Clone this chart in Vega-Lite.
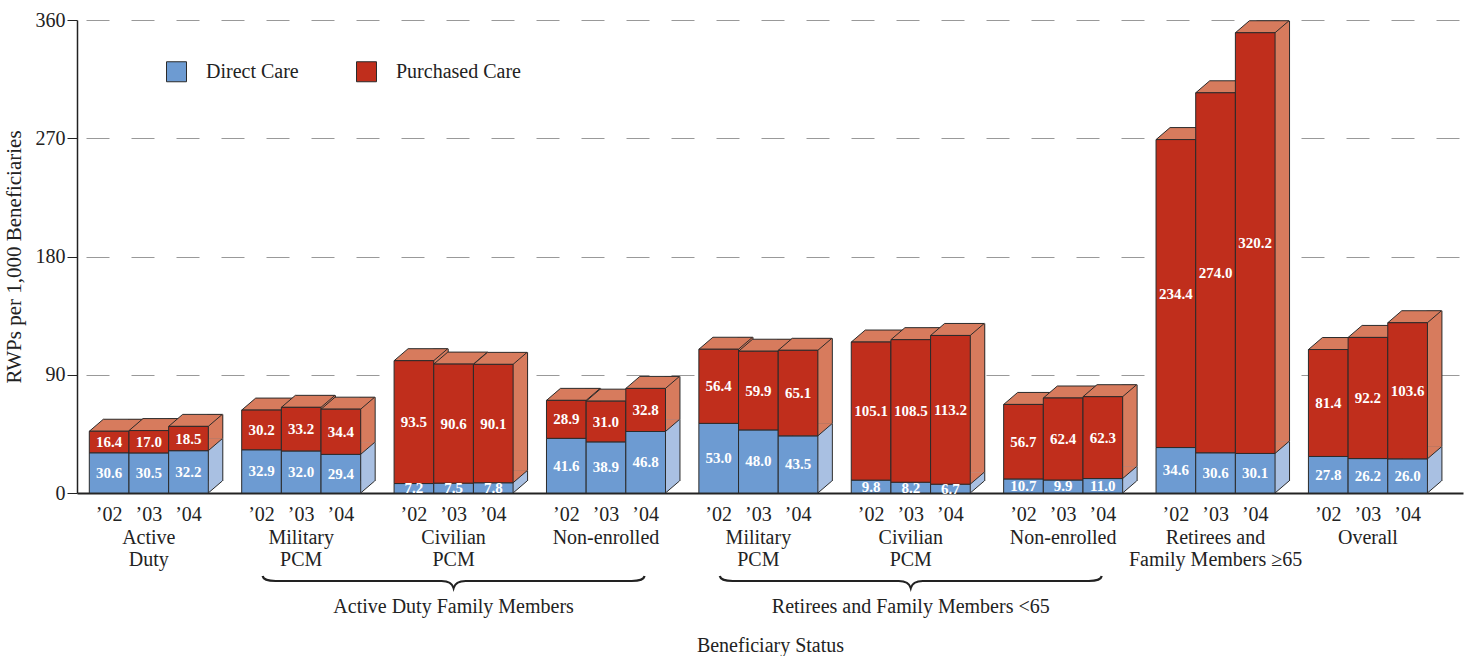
{
  "$schema": "https://vega.github.io/schema/vega-lite/v6.json",
  "width": 1386,
  "height": 473,
  "autosize": {"type": "none"},
  "padding": {"left": 77, "top": 20, "right": 5, "bottom": 163},
  "background": "white",
  "config": {
    "font": "Liberation Serif",
    "view": {"stroke": null},
    "legend": {"padding": 0}
  },
  "datasets": {
    "rwp": [
      {"grp": "AD", "year": "’02", "series": "Direct Care", "value": 30.6},
      {"grp": "AD", "year": "’02", "series": "Purchased Care", "value": 16.4},
      {"grp": "AD", "year": "’03", "series": "Direct Care", "value": 30.5},
      {"grp": "AD", "year": "’03", "series": "Purchased Care", "value": 17.0},
      {"grp": "AD", "year": "’04", "series": "Direct Care", "value": 32.2},
      {"grp": "AD", "year": "’04", "series": "Purchased Care", "value": 18.5},
      {"grp": "ADFM-M", "year": "’02", "series": "Direct Care", "value": 32.9},
      {"grp": "ADFM-M", "year": "’02", "series": "Purchased Care", "value": 30.2},
      {"grp": "ADFM-M", "year": "’03", "series": "Direct Care", "value": 32.0},
      {"grp": "ADFM-M", "year": "’03", "series": "Purchased Care", "value": 33.2},
      {"grp": "ADFM-M", "year": "’04", "series": "Direct Care", "value": 29.4},
      {"grp": "ADFM-M", "year": "’04", "series": "Purchased Care", "value": 34.4},
      {"grp": "ADFM-C", "year": "’02", "series": "Direct Care", "value": 7.2},
      {"grp": "ADFM-C", "year": "’02", "series": "Purchased Care", "value": 93.5},
      {"grp": "ADFM-C", "year": "’03", "series": "Direct Care", "value": 7.5},
      {"grp": "ADFM-C", "year": "’03", "series": "Purchased Care", "value": 90.6},
      {"grp": "ADFM-C", "year": "’04", "series": "Direct Care", "value": 7.8},
      {"grp": "ADFM-C", "year": "’04", "series": "Purchased Care", "value": 90.1},
      {"grp": "ADFM-N", "year": "’02", "series": "Direct Care", "value": 41.6},
      {"grp": "ADFM-N", "year": "’02", "series": "Purchased Care", "value": 28.9},
      {"grp": "ADFM-N", "year": "’03", "series": "Direct Care", "value": 38.9},
      {"grp": "ADFM-N", "year": "’03", "series": "Purchased Care", "value": 31.0},
      {"grp": "ADFM-N", "year": "’04", "series": "Direct Care", "value": 46.8},
      {"grp": "ADFM-N", "year": "’04", "series": "Purchased Care", "value": 32.8},
      {"grp": "RFM-M", "year": "’02", "series": "Direct Care", "value": 53.0},
      {"grp": "RFM-M", "year": "’02", "series": "Purchased Care", "value": 56.4},
      {"grp": "RFM-M", "year": "’03", "series": "Direct Care", "value": 48.0},
      {"grp": "RFM-M", "year": "’03", "series": "Purchased Care", "value": 59.9},
      {"grp": "RFM-M", "year": "’04", "series": "Direct Care", "value": 43.5},
      {"grp": "RFM-M", "year": "’04", "series": "Purchased Care", "value": 65.1},
      {"grp": "RFM-C", "year": "’02", "series": "Direct Care", "value": 9.8},
      {"grp": "RFM-C", "year": "’02", "series": "Purchased Care", "value": 105.1},
      {"grp": "RFM-C", "year": "’03", "series": "Direct Care", "value": 8.2},
      {"grp": "RFM-C", "year": "’03", "series": "Purchased Care", "value": 108.5},
      {"grp": "RFM-C", "year": "’04", "series": "Direct Care", "value": 6.7},
      {"grp": "RFM-C", "year": "’04", "series": "Purchased Care", "value": 113.2},
      {"grp": "RFM-N", "year": "’02", "series": "Direct Care", "value": 10.7},
      {"grp": "RFM-N", "year": "’02", "series": "Purchased Care", "value": 56.7},
      {"grp": "RFM-N", "year": "’03", "series": "Direct Care", "value": 9.9},
      {"grp": "RFM-N", "year": "’03", "series": "Purchased Care", "value": 62.4},
      {"grp": "RFM-N", "year": "’04", "series": "Direct Care", "value": 11.0},
      {"grp": "RFM-N", "year": "’04", "series": "Purchased Care", "value": 62.3},
      {"grp": "R65", "year": "’02", "series": "Direct Care", "value": 34.6},
      {"grp": "R65", "year": "’02", "series": "Purchased Care", "value": 234.4},
      {"grp": "R65", "year": "’03", "series": "Direct Care", "value": 30.6},
      {"grp": "R65", "year": "’03", "series": "Purchased Care", "value": 274.0},
      {"grp": "R65", "year": "’04", "series": "Direct Care", "value": 30.1},
      {"grp": "R65", "year": "’04", "series": "Purchased Care", "value": 320.2},
      {"grp": "ALL", "year": "’02", "series": "Direct Care", "value": 27.8},
      {"grp": "ALL", "year": "’02", "series": "Purchased Care", "value": 81.4},
      {"grp": "ALL", "year": "’03", "series": "Direct Care", "value": 26.2},
      {"grp": "ALL", "year": "’03", "series": "Purchased Care", "value": 92.2},
      {"grp": "ALL", "year": "’04", "series": "Direct Care", "value": 26.0},
      {"grp": "ALL", "year": "’04", "series": "Purchased Care", "value": 103.6}
    ],
    "braces": [
      {"grp": "ADFM-C", "label": "Active Duty Family Members"},
      {"grp": "RFM-C", "label": "Retirees and Family Members <65"}
    ]
  },
  "data": {"name": "rwp"},
  "transform": [
    {"stack": "value", "groupby": ["grp", "year"], "sort": [{"field": "series", "order": "ascending"}], "as": ["v0", "v1"]},
    {"calculate": "(datum.v0 + datum.v1) / 2", "as": "vmid"},
    {"lookup": "grp", "from": {"data": {"name": "braces"}, "key": "grp", "fields": ["label"]}}
  ],
  "resolve": {"scale": {"xOffset": "independent"}},
  "encoding": {
    "x": {
      "field": "grp",
      "type": "nominal",
      "scale": {
        "domain": ["AD", "ADFM-M", "ADFM-C", "ADFM-N", "RFM-M", "RFM-C", "RFM-N", "R65", "ALL"],
        "paddingInner": 0.219,
        "paddingOuter": 0.157,
        "align": 0.257
      },
      "axis": {
        "title": "Beneficiary Status",
        "titleFont": "Liberation Serif",
        "titleFontSize": 20,
        "titleFontWeight": "normal",
        "titleColor": "#222",
        "titlePadding": 66,
        "labelExpr": "({'AD':['Active','Duty'],'ADFM-M':['Military','PCM'],'ADFM-C':['Civilian','PCM'],'ADFM-N':'Non-enrolled','RFM-M':['Military','PCM'],'RFM-C':['Civilian','PCM'],'RFM-N':'Non-enrolled','R65':['Retirees and','Family Members ≥65'],'ALL':'Overall'})[datum.value]",
        "labelFont": "Liberation Serif",
        "labelFontSize": 20,
        "labelColor": "#222",
        "labelPadding": 34,
        "labelLineHeight": 22,
        "labelAngle": 0,
        "ticks": false,
        "domain": true,
        "domainColor": "#222",
        "domainWidth": 2
      }
    },
    "xOffset": {"field": "year", "type": "nominal", "scale": {"type": "band", "paddingInner": 0, "paddingOuter": 0}},
    "y": {
      "field": "v1",
      "type": "quantitative",
      "scale": {"domain": [0, 360], "nice": false},
      "axis": {
        "title": "RWPs per 1,000 Beneficiaries",
        "titleFont": "Liberation Serif",
        "titleFontSize": 21,
        "titleFontWeight": "normal",
        "titleColor": "#222",
        "titlePadding": 11,
        "values": [0, 90, 180, 270, 360],
        "labelFont": "Liberation Serif",
        "labelFontSize": 20,
        "labelColor": "#222",
        "labelPadding": 2,
        "tickSize": 10,
        "tickColor": "#222",
        "domainColor": "#222",
        "domainWidth": 1.5,
        "grid": true,
        "gridColor": "#999",
        "gridDash": [23, 22],
        "gridDashOffset": 36,
        "gridWidth": 1.2
      }
    }
  },
  "layer": [
    {
      "mark": {"type": "rule", "strokeWidth": 16, "strokeCap": "butt", "color": "#2b2b2b", "yOffset": -12, "y2Offset": -12},
      "encoding": {
        "xOffset": {"field": "year", "type": "nominal", "scale": {"type": "band", "range": [26.83, 145.83], "paddingInner": 0, "paddingOuter": 0}},
        "y": {"field": "v1", "type": "quantitative"},
        "y2": {"field": "v0"}
      }
    },
    {
      "mark": {"type": "rule", "strokeWidth": 14, "strokeCap": "butt", "yOffset": -12, "y2Offset": -12},
      "encoding": {
        "xOffset": {"field": "year", "type": "nominal", "scale": {"type": "band", "range": [26.83, 145.83], "paddingInner": 0, "paddingOuter": 0}},
        "y": {"field": "v1", "type": "quantitative"},
        "y2": {"field": "v0"},
        "color": {"condition": {"test": "datum.series === 'Direct Care'", "value": "#a9c0e2"}, "value": "#d77b5d"}
      }
    },
    {
      "mark": {"type": "point", "shape": "M19.8,-12L19.8,0L33.8,-12Z", "size": 4, "filled": true, "opacity": 1, "strokeWidth": 0},
      "encoding": {
        "y": {"field": "v0", "type": "quantitative"},
        "color": {"condition": {"test": "datum.series === 'Direct Care'", "value": "#a9c0e2"}, "value": "#d77b5d"}
      }
    },
    {
      "mark": {"type": "point", "shape": "M19.8,0L33.8,-12", "size": 4, "filled": false, "opacity": 1, "stroke": "#2b2b2b", "strokeWidth": 1},
      "encoding": {
        "y": {"field": "v0", "type": "quantitative"}
      }
    },
    {
      "transform": [{"filter": "datum.series === 'Purchased Care'"}],
      "mark": {"type": "point", "shape": "M-19.8,0L19.8,0L33.8,-12L-5.8,-12Z", "size": 4, "filled": true, "opacity": 1, "fill": "#d77b5d", "stroke": "#2b2b2b", "strokeWidth": 1},
      "encoding": {
        "y": {"field": "v1", "type": "quantitative"}
      }
    },
    {
      "mark": {"type": "bar", "stroke": "#2b2b2b", "strokeWidth": 1},
      "encoding": {
        "y": {"field": "v1", "type": "quantitative"},
        "y2": {"field": "v0"},
        "fill": {
          "field": "series",
          "type": "nominal",
          "scale": {"domain": ["Direct Care", "Purchased Care"], "range": ["#6d9bd2", "#c02e1c"]},
          "legend": {
            "title": null,
            "orient": "none",
            "legendX": 89,
            "legendY": 41,
            "direction": "horizontal",
            "symbolType": "square",
            "symbolSize": 400,
            "symbolStrokeColor": "#2b2b2b",
            "symbolStrokeWidth": 1,
            "labelFont": "Liberation Serif",
            "labelFontSize": 20,
            "labelColor": "#222",
            "labelOffset": 19,
            "columnPadding": 55
          }
        }
      }
    },
    {
      "mark": {"type": "text", "color": "white", "fontWeight": "bold", "fontSize": 15, "font": "Liberation Serif", "baseline": "middle"},
      "encoding": {
        "y": {"field": "vmid", "type": "quantitative"},
        "text": {"field": "value", "type": "quantitative", "format": ".1f"}
      }
    },
    {
      "transform": [{"filter": "datum.series === 'Direct Care'"}],
      "mark": {"type": "text", "color": "#222", "fontSize": 20, "font": "Liberation Serif", "baseline": "middle", "dy": 22},
      "encoding": {
        "y": {"datum": 0, "type": "quantitative"},
        "text": {"field": "year"}
      }
    },
    {
      "transform": [{"filter": "datum.series === 'Direct Care' && datum.year === '’03' && datum.label != null"}],
      "mark": {"type": "point", "shape": "M-191,83Q-190,88-178,88L-12,88Q-2,88 0,95Q2,88 12,88L178,88Q190,88 191,83", "size": 4, "filled": false, "opacity": 1, "stroke": "#222", "strokeWidth": 2.2},
      "encoding": {
        "y": {"datum": 0, "type": "quantitative"}
      }
    },
    {
      "transform": [{"filter": "datum.series === 'Direct Care' && datum.year === '’03' && datum.label != null"}],
      "mark": {"type": "text", "color": "#222", "fontSize": 20, "font": "Liberation Serif", "baseline": "middle", "dy": 114},
      "encoding": {
        "y": {"datum": 0, "type": "quantitative"},
        "text": {"field": "label"}
      }
    }
  ]
}
